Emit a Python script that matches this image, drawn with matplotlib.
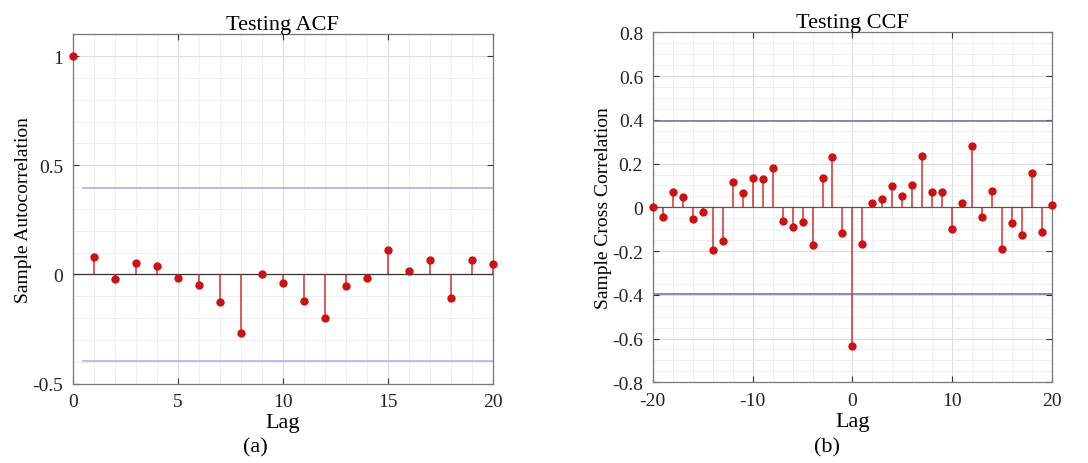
import matplotlib.pyplot as plt
from matplotlib.ticker import MultipleLocator, FuncFormatter

plt.rcParams['font.family'] = ['Liberation Serif', 'DejaVu Serif']
plt.rcParams['axes.unicode_minus'] = False

# ACF of the testing residuals, lags 0..20
acf_lags = list(range(0, 21))
acf_vals = [1.0, 0.078, -0.023, 0.052, 0.038, -0.018, -0.047, -0.128, -0.266,
            0.002, -0.040, -0.122, -0.200, -0.053, -0.014, 0.110, 0.014,
            0.066, -0.107, 0.067, 0.046]
acf_bound = 0.394

# CCF, lags -20..20
ccf_lags = list(range(-20, 21))
ccf_vals = [0.0, -0.045, 0.071, 0.046, -0.052, -0.022, -0.194, -0.155, 0.117,
            0.066, 0.134, 0.131, 0.182, -0.063, -0.088, -0.069, -0.171, 0.134,
            0.231, -0.118, -0.635, -0.168, 0.021, 0.037, 0.099, 0.053, 0.101,
            0.235, 0.069, 0.069, -0.098, 0.020, 0.282, -0.046, 0.073, -0.189,
            -0.072, -0.125, 0.157, -0.113, 0.012]
ccf_bound = 0.395

red = '#cc1111'
grid_major = '#dcdce4'
grid_minor = '#eeeef2'

fig = plt.figure(figsize=(10.88, 4.64), dpi=100)
ax1 = fig.add_axes([0.0668, 0.171, 0.386, 0.753])
ax2 = fig.add_axes([0.600, 0.174, 0.367, 0.754])

fmt = FuncFormatter(lambda v, p: '%g' % round(v, 6) if abs(v) > 1e-9 else '0')


def style(ax):
    ax.set_axisbelow(True)
    ax.grid(which='major', color=grid_major, linewidth=0.8)
    ax.grid(which='minor', color=grid_minor, linewidth=0.6)
    ax.tick_params(which='both', direction='in', top=True, right=True,
                   labelsize=14, colors='#333333', labelcolor='#222222')
    ax.tick_params(which='minor', length=0)
    ax.tick_params(which='major', length=4, pad=7)
    for s in ax.spines.values():
        s.set_color('#777777')
        s.set_linewidth(0.9)


def draw_stem(ax, x, y):
    m, st, b = ax.stem(x, y, linefmt='-', markerfmt='o', basefmt=' ')
    plt.setp(st, color=red, linewidth=1.1, alpha=0.85)
    plt.setp(m, color=red, markersize=5, clip_on=False, zorder=4)


# (a) ACF
style(ax1)
ax1.axhline(0, color='#333333', linewidth=0.9, zorder=2)
draw_stem(ax1, acf_lags, acf_vals)
ax1.plot([0.5, 20], [acf_bound, acf_bound], color='#a8a8f0', linewidth=1.1)
ax1.plot([0.5, 20], [-acf_bound, -acf_bound], color='#a8a8f0', linewidth=1.1)
ax1.set_xlim(0, 20)
ax1.set_ylim(-0.5, 1.1)
ax1.xaxis.set_major_locator(MultipleLocator(5))
ax1.xaxis.set_minor_locator(MultipleLocator(1))
ax1.yaxis.set_major_locator(MultipleLocator(0.5))
ax1.yaxis.set_minor_locator(MultipleLocator(0.1))
ax1.yaxis.set_major_formatter(fmt)
ax1.set_title('Testing ACF', fontsize=16, pad=4)
ax1.set_xlabel('Lag', fontsize=16, labelpad=2)
ax1.set_ylabel('Sample Autocorrelation', fontsize=14, labelpad=0)

# (b) CCF
style(ax2)
ax2.axhline(0, color='#555566', linewidth=0.9, zorder=2)
draw_stem(ax2, ccf_lags, ccf_vals)
ax2.axhline(ccf_bound, color='#6a6aa8', linewidth=1.1)
ax2.axhline(-ccf_bound, color='#6a6aa8', linewidth=1.1)
ax2.set_xlim(-20, 20)
ax2.set_ylim(-0.8, 0.8)
ax2.xaxis.set_major_locator(MultipleLocator(10))
ax2.xaxis.set_minor_locator(MultipleLocator(2))
ax2.yaxis.set_major_locator(MultipleLocator(0.2))
ax2.yaxis.set_minor_locator(MultipleLocator(0.05))
ax2.yaxis.set_major_formatter(fmt)
ax2.set_title('Testing CCF', fontsize=16, pad=4)
ax2.set_xlabel('Lag', fontsize=16, labelpad=2)
ax2.set_ylabel('Sample Cross Correlation', fontsize=14, labelpad=0)

fig.text(0.235, 0.035, '(a)', fontsize=16, ha='center', va='center')
fig.text(0.760, 0.035, '(b)', fontsize=16, ha='center', va='center')

fig.savefig('out.png', dpi=100)
